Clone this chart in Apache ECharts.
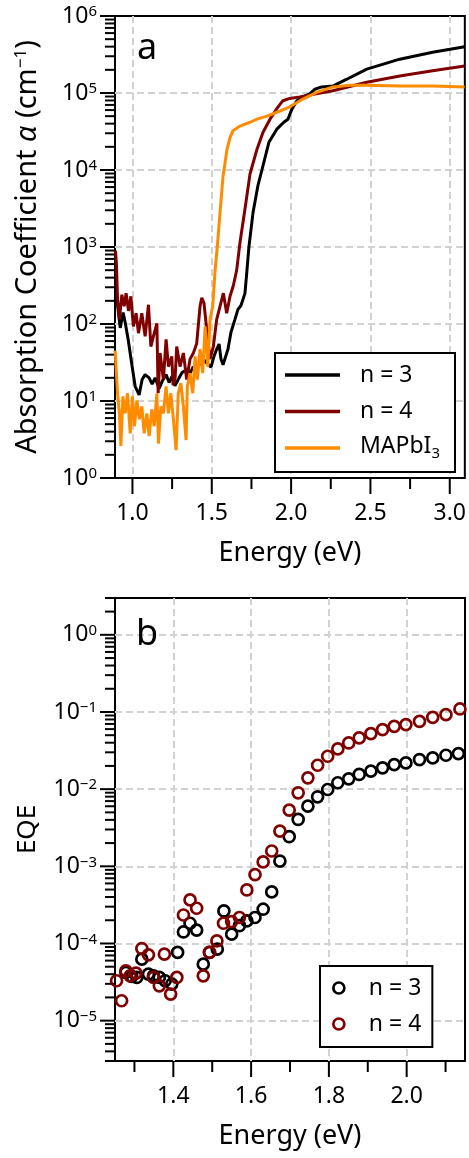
<!DOCTYPE html>
<html>
<head>
<meta charset="utf-8">
<script src="https://cdn.jsdelivr.net/npm/echarts@6/dist/echarts.min.js"></script>
<style>
  body { margin: 0; background: #fff; }
  #absChart { width: 469px; height: 580px; }
  #eqeChart { width: 469px; height: 578px; }
</style>
</head>
<body>
<div id="absChart"></div>
<div id="eqeChart"></div>
<script>
// ---- panel a: absorption coefficient [energy eV, alpha cm^-1] ----
const absN3 = [
  [0.893, 240], [0.903, 200], [0.923, 89], [0.941, 141], [0.954, 105], [0.973, 63],
  [0.998, 28], [1.017, 15.5], [1.042, 12], [1.061, 19], [1.080, 22], [1.105, 20],
  [1.124, 16.6], [1.143, 20], [1.168, 14.5], [1.187, 18], [1.212, 22], [1.231, 17.4],
  [1.250, 21], [1.268, 15.8], [1.294, 20], [1.313, 23.4], [1.344, 25.7], [1.363, 23],
  [1.382, 27.5], [1.413, 28], [1.445, 35], [1.476, 30], [1.495, 27.5], [1.514, 38],
  [1.527, 45], [1.546, 55], [1.558, 35], [1.571, 29.5], [1.583, 28], [1.602, 47],
  [1.621, 78], [1.646, 115], [1.665, 155], [1.684, 174], [1.709, 250], [1.720, 450],
  [1.734, 1000], [1.760, 2800], [1.791, 6300], [1.816, 10000], [1.860, 22900],
  [1.910, 33900], [1.954, 41700], [1.980, 45700], [2.005, 61700], [2.036, 79400],
  [2.074, 89100], [2.118, 97700], [2.150, 112000], [2.193, 120000], [2.263, 123000],
  [2.351, 151000], [2.477, 204000], [2.685, 275000], [2.892, 339000], [3.094, 398000]
];
const absN4 = [
  [0.893, 900], [0.899, 600], [0.906, 209], [0.918, 115], [0.933, 240], [0.948, 170],
  [0.960, 251], [0.975, 148], [0.990, 229], [1.006, 93], [1.023, 138], [1.038, 76],
  [1.059, 138], [1.080, 69], [1.101, 178], [1.116, 51], [1.132, 69], [1.154, 102],
  [1.162, 12.6], [1.174, 42], [1.195, 19], [1.212, 63], [1.227, 28], [1.248, 38],
  [1.256, 16], [1.269, 20], [1.279, 51], [1.300, 28], [1.321, 42], [1.342, 19],
  [1.363, 35], [1.384, 42], [1.405, 56], [1.426, 170], [1.437, 219], [1.451, 186],
  [1.468, 85], [1.489, 35], [1.510, 51], [1.531, 115], [1.552, 170], [1.573, 251],
  [1.594, 138], [1.615, 229], [1.636, 316], [1.657, 500], [1.678, 1150], [1.709, 3090],
  [1.741, 8900], [1.785, 18600], [1.823, 30900], [1.867, 45700], [1.911, 63100],
  [1.948, 79400], [1.992, 85100], [2.055, 89100], [2.263, 107000], [2.477, 138000],
  [2.685, 166000], [2.892, 195000], [3.094, 224000]
];
const absMAPbI3 = [
  [0.891, 45], [0.906, 12.6], [0.918, 6.9], [0.927, 2.6], [0.940, 11.5], [0.954, 6.9],
  [0.969, 12.6], [0.986, 3.8], [1.000, 11.5], [1.013, 4.7], [1.028, 10.2], [1.044, 5.8],
  [1.059, 8.5], [1.074, 3.8], [1.091, 6.9], [1.105, 3.5], [1.122, 7.8], [1.137, 4.7],
  [1.154, 12.6], [1.164, 2.8], [1.179, 8.5], [1.195, 6.9], [1.212, 15.5], [1.227, 6.9],
  [1.242, 12.6], [1.258, 5.8], [1.275, 2.3], [1.289, 12.6], [1.305, 17], [1.321, 8.5],
  [1.338, 3.1], [1.346, 15.5], [1.363, 23], [1.380, 12.6], [1.395, 38], [1.409, 19],
  [1.426, 47], [1.443, 23], [1.458, 93], [1.475, 28], [1.489, 115], [1.506, 170],
  [1.520, 468], [1.535, 1020], [1.552, 2800], [1.571, 8300], [1.596, 18600],
  [1.615, 26300], [1.634, 32400], [1.678, 37200], [1.741, 41700], [1.785, 45700],
  [1.848, 50100], [1.910, 56200], [1.992, 66100], [2.055, 79400], [2.162, 102000],
  [2.263, 120000], [2.370, 126000], [2.477, 126000], [2.685, 123000], [2.892, 123000],
  [3.094, 120000]
];

// ---- panel b: EQE [energy eV, EQE] ----
const eqeN3 = [
  [1.278, 4.22e-5], [1.293, 3.74e-5], [1.306, 3.63e-5], [1.319, 6.27e-5], [1.336, 4.01e-5],
  [1.349, 3.81e-5], [1.364, 3.63e-5], [1.379, 3.29e-5], [1.396, 2.98e-5], [1.411, 7.66e-5],
  [1.426, 1.41e-4], [1.443, 1.83e-4], [1.460, 1.49e-4], [1.477, 5.4e-5], [1.493, 7.66e-5],
  [1.513, 8.45e-5], [1.530, 2.64e-4], [1.550, 1.32e-4], [1.570, 1.7e-4], [1.589, 1.96e-4],
  [1.610, 2.17e-4], [1.631, 2.78e-4], [1.653, 4.66e-4], [1.674, 1.17e-3], [1.698, 2.42e-3],
  [1.721, 4.05e-3], [1.746, 6.02e-3], [1.771, 7.96e-3], [1.797, 9.9e-3], [1.823, 0.0121],
  [1.851, 0.0136], [1.878, 0.0155], [1.908, 0.0171], [1.938, 0.0189], [1.968, 0.0208],
  [1.998, 0.0219], [2.033, 0.0242], [2.067, 0.0254], [2.101, 0.0275], [2.133, 0.0289]
];
const eqeN4 = [
  [1.254, 3.29e-5], [1.267, 1.81e-5], [1.278, 4.42e-5], [1.289, 3.81e-5], [1.304, 4.13e-5],
  [1.319, 8.6e-5], [1.336, 7.13e-5], [1.349, 3.63e-5], [1.364, 2.83e-5], [1.377, 7.27e-5],
  [1.393, 2.21e-5], [1.409, 3.63e-5], [1.426, 2.34e-4], [1.443, 3.67e-4], [1.460, 2.86e-4],
  [1.477, 3.81e-5], [1.493, 7.66e-5], [1.512, 1.08e-4], [1.529, 1.83e-4], [1.550, 1.92e-4],
  [1.570, 2.17e-4], [1.589, 4.94e-4], [1.610, 7.8e-4], [1.631, 1.14e-3], [1.653, 1.58e-3],
  [1.674, 2.86e-3], [1.698, 5.35e-3], [1.721, 8.97e-3], [1.746, 0.014], [1.771, 0.0204],
  [1.797, 0.0267], [1.823, 0.0332], [1.851, 0.0397], [1.878, 0.0461], [1.908, 0.0525],
  [1.938, 0.0591], [1.968, 0.0652], [1.998, 0.0686], [2.033, 0.0757], [2.067, 0.0853],
  [2.101, 0.0923], [2.137, 0.1094]
];

// ---- axis ranges and tick values ----
const absXRange = [0.89, 3.095];
const absYRange = [1, 1e6];
const absXMajor = [1.0, 1.5, 2.0, 2.5, 3.0];
const absXMinor = [1.25, 1.75, 2.25, 2.75];
const absYMajor = [1, 10, 100, 1e3, 1e4, 1e5, 1e6];
const absYMinor = [
  2, 3, 4, 5, 6, 7, 8, 9, 20, 30, 40, 50, 60, 70, 80, 90,
  200, 300, 400, 500, 600, 700, 800, 900, 2e3, 3e3, 4e3, 5e3, 6e3, 7e3, 8e3, 9e3,
  2e4, 3e4, 4e4, 5e4, 6e4, 7e4, 8e4, 9e4, 2e5, 3e5, 4e5, 5e5, 6e5, 7e5, 8e5, 9e5
];
const eqeXRange = [1.25, 2.15];
const eqeYRange = [3e-6, 3];
const eqeXMajor = [1.4, 1.6, 1.8, 2.0];
const eqeXMinor = [1.3, 1.5, 1.7, 1.9, 2.1];
const eqeYMajor = [1e-5, 1e-4, 1e-3, 1e-2, 1e-1, 1];
const eqeYMinor = [
  3e-6, 4e-6, 5e-6, 6e-6, 7e-6, 8e-6, 9e-6,
  2e-5, 3e-5, 4e-5, 5e-5, 6e-5, 7e-5, 8e-5, 9e-5,
  2e-4, 3e-4, 4e-4, 5e-4, 6e-4, 7e-4, 8e-4, 9e-4,
  2e-3, 3e-3, 4e-3, 5e-3, 6e-3, 7e-3, 8e-3, 9e-3,
  0.02, 0.03, 0.04, 0.05, 0.06, 0.07, 0.08, 0.09,
  0.2, 0.3, 0.4, 0.5, 0.6, 0.7, 0.8, 0.9, 2, 3
];

const FONT = "Noto Sans";
const BLACK = "#000000";
const MAROON = "#800000";
const ORANGE = "#ff8c00";
const GRIDLINE = { color: "#d2d2d2", width: 2, type: [7, 4] };

function decadeLabel(v) {
  const l = Math.log10(v);
  const e = Math.round(l);
  if (Math.abs(l - e) > 1e-6) return "";
  return "{b|10}{e|" + (e < 0 ? "\u2212" + -e : e) + "}";
}
const decadeRich = {
  b: { fontSize: 23, color: "#000", fontFamily: FONT, verticalAlign: "bottom" },
  e: { fontSize: 15, color: "#000", fontFamily: FONT, verticalAlign: "top" },
};

function isStep(v, step) {
  const k = v / step;
  return Math.abs(k - Math.round(k)) < 1e-6;
}

// ticks drawn through the axes' own scales
function tickData(xMin, yMin, xMajor, xMinor, yMajor, yMinor) {
  const d = [];
  xMajor.forEach((v) => d.push([v, yMin, 16, 0]));
  xMinor.forEach((v) => d.push([v, yMin, 11, 0]));
  yMajor.forEach((v) => d.push([xMin, v, 15, 1]));
  yMinor.forEach((v) => d.push([xMin, v, 10, 1]));
  return d;
}
function tickRender(params, api) {
  const p = api.coord([api.value(0), api.value(1)]);
  const len = api.value(2);
  const shape = api.value(3) === 1
    ? { x1: p[0] - len, y1: p[1], x2: p[0], y2: p[1] }
    : { x1: p[0], y1: p[1], x2: p[0], y2: p[1] + len };
  return { type: "line", shape: shape, style: { stroke: "#000", lineWidth: 2 } };
}

// ---------------- chart a ----------------
let absDom = document.getElementById("absChart");
let absChart = echarts.init(absDom);
let absOption = {
  animation: false,
  backgroundColor: "#fff",
  textStyle: { fontFamily: FONT },
  title: {
    text: "a", left: 137, top: 31, padding: 0,
    textStyle: { fontSize: 36, fontWeight: "normal", color: "#000", fontFamily: FONT },
  },
  grid: {
    left: 115, top: 16, width: 350, height: 462,
    show: true, borderColor: "#000", borderWidth: 2, backgroundColor: "transparent",
  },
  legend: {
    data: [
      { name: "n = 3", icon: "rect" },
      { name: "n = 4", icon: "rect" },
      { name: "MAPbI3", icon: "rect" },
    ],
    orient: "vertical",
    left: 275, top: 353,
    itemWidth: 55, itemHeight: 3.5, itemGap: 10.5,
    padding: [9, 15, 11, 10],
    borderColor: "#000", borderWidth: 2, borderRadius: 0,
    backgroundColor: "#fff",
    formatter: function (name) {
      return name === "MAPbI3" ? "{m|MAPbI}{s|3}" : name;
    },
    textStyle: {
      fontSize: 23, color: "#000", fontFamily: FONT, lineHeight: 26,
      padding: [0, 0, 0, 15],
      rich: {
        m: { fontSize: 23, color: "#000", fontFamily: FONT, verticalAlign: "top" },
        s: { fontSize: 15, color: "#000", fontFamily: FONT, verticalAlign: "bottom" },
      },
    },
  },
  xAxis: {
    type: "value",
    min: absXRange[0], max: absXRange[1],
    axisLine: { show: false },
    axisTick: { show: false },
    axisLabel: {
      margin: 24, fontSize: 23, color: "#000", fontFamily: FONT,
      formatter: function (v) { return isStep(v, 0.5) ? v.toFixed(1) : ""; },
    },
    splitLine: { show: true, showMinLine: false, showMaxLine: false, lineStyle: GRIDLINE },
    name: "Energy (eV)",
    nameLocation: "middle",
    nameGap: 62,
    nameTextStyle: { fontSize: 27, color: "#000", fontFamily: FONT },
  },
  yAxis: {
    type: "log", logBase: 10,
    min: absYRange[0], max: absYRange[1],
    axisLine: { show: false },
    axisTick: { show: false },
    axisLabel: { margin: 18, formatter: decadeLabel, rich: decadeRich },
    splitLine: { show: true, showMinLine: false, showMaxLine: false, lineStyle: GRIDLINE },
    name: "Absorption Coefficient {i|\u03b1} (cm{s|\u22121})",
    nameLocation: "middle",
    nameRotate: 90,
    nameGap: 73,
    nameTextStyle: {
      fontSize: 29, color: "#000", fontFamily: FONT,
      rich: {
        i: { fontSize: 29, fontStyle: "italic", color: "#000", fontFamily: FONT },
        s: { fontSize: 17, color: "#000", fontFamily: FONT, verticalAlign: "top" },
      },
    },
  },
  series: [
    {
      name: "n = 3", type: "line", data: absN3, symbol: "none",
      lineStyle: { color: BLACK, width: 3 }, itemStyle: { color: BLACK },
    },
    {
      name: "n = 4", type: "line", data: absN4, symbol: "none",
      lineStyle: { color: MAROON, width: 3 }, itemStyle: { color: MAROON },
    },
    {
      name: "MAPbI3", type: "line", data: absMAPbI3, symbol: "none",
      lineStyle: { color: ORANGE, width: 3 }, itemStyle: { color: ORANGE },
    },
    {
      type: "custom", silent: true, clip: false,
      data: tickData(absXRange[0], absYRange[0], absXMajor, absXMinor, absYMajor, absYMinor),
      renderItem: tickRender,
    },
  ],
};
absChart.setOption(absOption);

// ---------------- chart b ----------------
let eqeDom = document.getElementById("eqeChart");
let eqeChart = echarts.init(eqeDom);
let eqeOption = {
  animation: false,
  backgroundColor: "#fff",
  textStyle: { fontFamily: FONT },
  title: {
    text: "b", left: 136, top: 37, padding: 0,
    textStyle: { fontSize: 36, fontWeight: "normal", color: "#000", fontFamily: FONT },
  },
  grid: {
    left: 115, top: 18, width: 350, height: 463,
    show: true, borderColor: "#000", borderWidth: 2, backgroundColor: "transparent",
  },
  legend: {
    data: ["n = 3", "n = 4"],
    orient: "vertical",
    left: 320, top: 386,
    itemWidth: 50, itemHeight: 11, itemGap: 10,
    padding: [9, 11, 10, 12],
    borderColor: "#000", borderWidth: 2, borderRadius: 0,
    backgroundColor: "#fff",
    itemStyle: { borderWidth: 2.7, opacity: 1 },
    textStyle: { fontSize: 23, color: "#000", fontFamily: FONT, lineHeight: 26 },
  },
  xAxis: {
    type: "value",
    min: eqeXRange[0], max: eqeXRange[1],
    axisLine: { show: false },
    axisTick: { show: false },
    axisLabel: {
      margin: 24, fontSize: 23, color: "#000", fontFamily: FONT,
      formatter: function (v) { return isStep(v, 0.2) ? v.toFixed(1) : ""; },
    },
    splitLine: { show: true, showMinLine: false, showMaxLine: false, lineStyle: GRIDLINE },
    name: "Energy (eV)",
    nameLocation: "middle",
    nameGap: 62,
    nameTextStyle: { fontSize: 27, color: "#000", fontFamily: FONT },
  },
  yAxis: {
    type: "log", logBase: 10,
    min: eqeYRange[0], max: eqeYRange[1],
    axisLine: { show: false },
    axisTick: { show: false },
    axisLabel: { margin: 18, formatter: decadeLabel, rich: decadeRich },
    splitLine: { show: true, showMinLine: false, showMaxLine: false, lineStyle: GRIDLINE },
    name: "EQE",
    nameLocation: "middle",
    nameRotate: 90,
    nameGap: 74,
    nameTextStyle: { fontSize: 26, color: "#000", fontFamily: FONT },
  },
  series: [
    {
      name: "n = 3", type: "scatter", data: eqeN3, symbol: "circle", symbolSize: 11,
      itemStyle: { color: "rgba(0,0,0,0)", borderColor: BLACK, borderWidth: 2.7, opacity: 1 },
    },
    {
      name: "n = 4", type: "scatter", data: eqeN4, symbol: "circle", symbolSize: 11,
      itemStyle: { color: "rgba(0,0,0,0)", borderColor: MAROON, borderWidth: 2.7, opacity: 1 },
    },
    {
      type: "custom", silent: true, clip: false,
      data: tickData(eqeXRange[0], eqeYRange[0], eqeXMajor, eqeXMinor, eqeYMajor, eqeYMinor),
      renderItem: tickRender,
    },
  ],
};
eqeChart.setOption(eqeOption);
</script>
</body>
</html>
